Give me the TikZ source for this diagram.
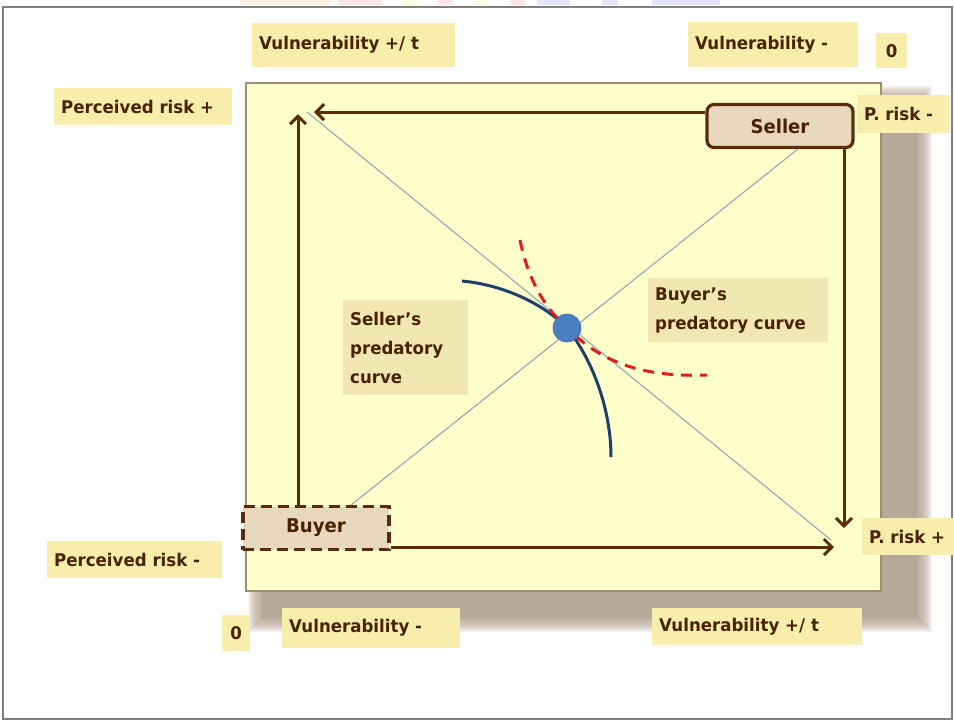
\documentclass[tikz,border=0pt]{standalone}
\usepackage{fontspec}
\setmainfont{DejaVu Sans}[FakeStretch=0.95]
\usetikzlibrary{arrows.meta}
\definecolor{panelfill}{HTML}{FFFFCC}
\definecolor{panelline}{HTML}{A08C70}
\definecolor{lblfill}{HTML}{F6EEAA}
\definecolor{lblin}{HTML}{F0E7B2}
\definecolor{txt}{HTML}{4A2200}
\definecolor{arrc}{HTML}{5B2C0A}
\definecolor{boxfill}{HTML}{E8D8BE}
\definecolor{diag}{HTML}{8FA8B4}
\definecolor{dotc}{HTML}{4A7FC4}
\definecolor{curvec}{HTML}{1F3F6A}
\definecolor{redc}{HTML}{E41B1B}
\definecolor{shadowc}{HTML}{B8A898}
\tikzset{
  lbl/.style={fill=lblfill, text=txt, font=\bfseries\fontsize{17.5}{29}\selectfont,
    inner xsep=7pt, inner ysep=0pt, anchor=north west, align=left},
  actor/.style={fill=boxfill, text=txt, font=\bfseries\fontsize{19}{20}\selectfont,
    line width=3.2pt, draw=arrc, minimum width=146pt, minimum height=43pt, inner sep=0pt},
  arr/.style={draw=arrc, line width=3pt, -{Straight Barb[length=8pt,width=16pt,line width=3pt]}},
  diagline/.style={draw=diag, line width=1.1pt},
}
\begin{document}
\begin{tikzpicture}[x=1pt,y=-1pt]
\useasboundingbox (0,0) rectangle (954,721);
\fill[white] (0,0) rectangle (954,721);
% watermark strip
\fill[orange!10] (240,0) rectangle (330,5);
\fill[red!10] (338,0) rectangle (382,5);
\fill[yellow!12] (402,0) rectangle (417,5);
\fill[red!10] (438,0) rectangle (453,5);
\fill[yellow!12] (473,0) rectangle (488,5);
\fill[red!10] (510,0) rectangle (525,5);
\fill[blue!10] (537,0) rectangle (570,5);
\fill[blue!10] (602,0) rectangle (618,5);
\fill[blue!10] (652,0) rectangle (720,5);
% outer frame
\draw[gray, line width=1.5pt] (3,7) rectangle (952,719);
% shadow
\foreach \i in {14,13,...,1}{
  \fill[shadowc, fill opacity=0.12] (262-\i,100-\i) rectangle (918+\i,618+\i);
}
\fill[shadowc] (262,100) rectangle (918,618);
% panel
\node[draw=panelline, fill=panelfill, line width=2pt, minimum width=635pt, minimum height=508pt, anchor=north west, inner sep=0pt] (panel) at (245,82) {};
% outer labels
\node[lbl, minimum height=44pt, text width=189pt] (vtl) at (252,23) {Vulnerability +/ t};
\node[lbl, minimum height=45pt, text width=156pt] (vtr) at (688,22) {Vulnerability -};
\node[lbl, minimum height=35pt, text width=17pt, align=center] (ztr) at (876,33) {0};
\node[lbl, minimum height=37pt, text width=164pt] (prp) at (54,88) {Perceived risk +};
\node[lbl, minimum height=38pt, text width=79pt] (prm2) at (857,95) {P. risk -};
\node[lbl, minimum height=37pt, text width=161pt] (prm) at (47,541) {Perceived risk -};
\node[lbl, minimum height=37pt, text width=78pt] (prp2) at (862,518) {P. risk +};
\node[lbl, minimum height=36pt, text width=14pt, align=center] (zbl) at (222,615) {0};
\node[lbl, minimum height=40pt, text width=164pt] (vbl) at (282,608) {Vulnerability  -};
\node[lbl, minimum height=37pt, text width=196pt] (vbr) at (652,608) {Vulnerability +/ t};
% inner labels
\node[lbl, fill=lblin, minimum height=95pt, text width=111pt] (sc) at (343,300) {Seller's\\predatory\\curve};
\node[lbl, fill=lblin, minimum height=64pt, text width=166pt] (bc) at (648,278) {Buyer's\\predatory curve};
% actors
\node[actor, rounded corners=7pt] (seller) at (780,126) {Seller};
\node[actor, dash pattern=on 11pt off 6pt] (buyer) at (316,528) {Buyer};
% coordinates
\coordinate (tipTop) at (314,112);
\coordinate (tipLeft) at (298,114);
\coordinate (tipBottom) at (834,547);
\coordinate (tipRight) at (844,528);
\coordinate (d1s) at (307,112);
\coordinate (d1e) at (831,540);
\coordinate (d2s) at (351,505);
\coordinate (d2e) at (798,149);
% diagonals
\draw[diagline] (d1s) -- (d1e);
\draw[diagline] (d2s) -- (d2e);
% arrows
\draw[arr] (seller.west |- tipTop) -- (tipTop);
\draw[arr] (buyer.north -| tipLeft) -- (tipLeft);
\draw[arr] (buyer.east |- tipBottom) -- (tipBottom);
\draw[arr] (seller.south -| tipRight) -- (tipRight);
% curves
\coordinate (eq) at (567,328);
\draw[curvec, line width=3pt] (462,281) .. controls (505,285) and (545,305) .. (eq)
  .. controls (593,360) and (611,410) .. (611,457);
\draw[redc, line width=3pt, dash pattern=on 11pt off 8pt] (520,240) .. controls (528,280) and (545,308) .. (eq)
  .. controls (595,355) and (630,378) .. (707,375);
\node[circle, fill=dotc, draw=dotc!85!black, line width=0.6pt, minimum size=28pt, inner sep=0pt] (dot) at (eq) {};
\end{tikzpicture}
\end{document}
